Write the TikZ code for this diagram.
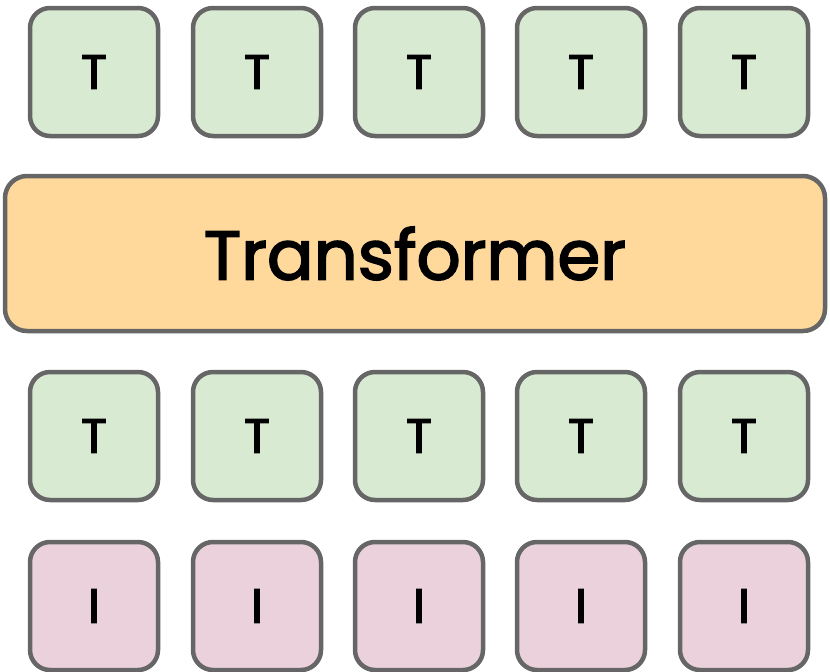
\documentclass[tikz,border=0pt]{standalone}
\usepackage{fontspec}
\setmainfont{Poppins}
\newfontfamily\tokfont{Poppins}[FakeBold=2.5]
\usepackage{xcolor}
\usepackage{tikz}
\definecolor{tokgreen}{HTML}{D9EAD3}
\definecolor{tokpink}{HTML}{EAD1DC}
\definecolor{trforange}{HTML}{FFD99B}
\definecolor{edgegray}{HTML}{666666}

\begin{document}
\begin{tikzpicture}[x=1pt,y=1pt]
\tikzstyle{every node}+=[inner sep=0pt]
\tikzstyle{tok}=[draw=edgegray, line width=4.5pt, rounded corners=20pt, minimum width=128pt, minimum height=128pt, font=\tokfont\fontsize{48}{48}\selectfont]
\useasboundingbox (0,0) rectangle (830,-672);
% output tokens
\node [tok, fill=tokgreen] (out1) at (94,-72) {T};
\node [tok, fill=tokgreen] (out2) at (257,-72) {T};
\node [tok, fill=tokgreen] (out3) at (419,-72) {T};
\node [tok, fill=tokgreen] (out4) at (581,-72) {T};
\node [tok, fill=tokgreen] (out5) at (744,-72) {T};
% model
\node [draw=edgegray, line width=4.5pt, rounded corners=22pt, fill=trforange, minimum width=820pt, minimum height=155pt, font=\tokfont\fontsize{69}{69}\selectfont] (trf) at (415,-253.5) {Transformer};
% text tokens
\node [tok, fill=tokgreen] (txt1) at (94,-436) {T};
\node [tok, fill=tokgreen] (txt2) at (257,-436) {T};
\node [tok, fill=tokgreen] (txt3) at (419,-436) {T};
\node [tok, fill=tokgreen] (txt4) at (581,-436) {T};
\node [tok, fill=tokgreen] (txt5) at (744,-436) {T};
% image tokens
\node [tok, fill=tokpink] (img1) at (94,-606) {I};
\node [tok, fill=tokpink] (img2) at (257,-606) {I};
\node [tok, fill=tokpink] (img3) at (419,-606) {I};
\node [tok, fill=tokpink] (img4) at (581,-606) {I};
\node [tok, fill=tokpink] (img5) at (744,-606) {I};
\end{tikzpicture}
\end{document}
